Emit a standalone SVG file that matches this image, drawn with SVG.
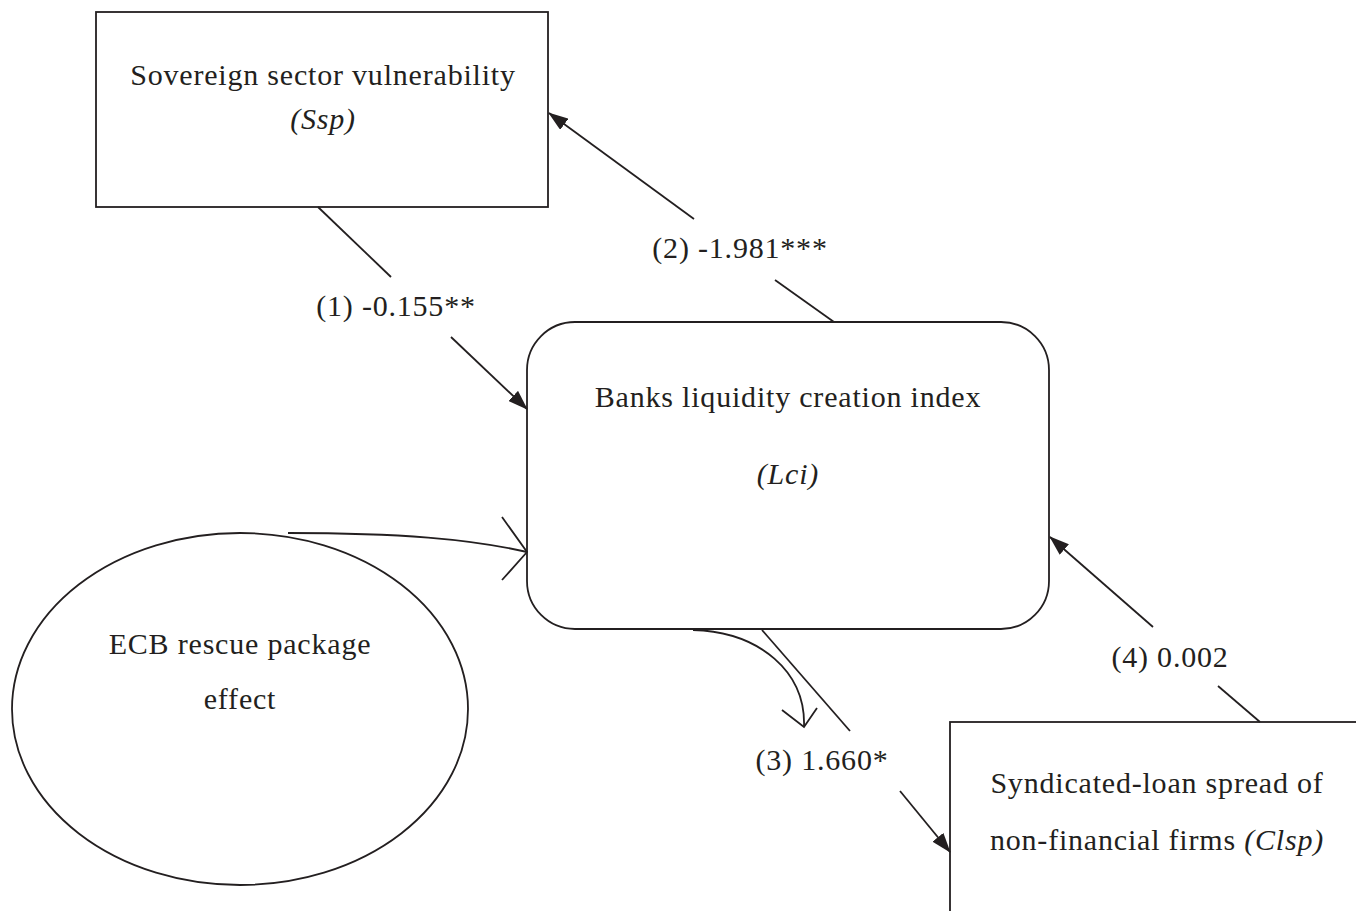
<svg xmlns="http://www.w3.org/2000/svg" width="1356" height="911" viewBox="0 0 1356 911">
<defs>
<style>
.shape{fill:#fff;stroke:#231f20;stroke-width:1.8}
.ln{fill:none;stroke:#231f20;stroke-width:1.8}
text{font-family:"Liberation Serif","Times New Roman",serif;font-size:30px;fill:#231f20;letter-spacing:0.8px}
.c{text-anchor:middle}
.i{font-style:italic}
</style>
<marker id="tri" viewBox="0 0 20 14" refX="19" refY="7" markerWidth="20" markerHeight="14" markerUnits="userSpaceOnUse" orient="auto">
<path d="M0,0 L20,7 L0,14 Z" fill="#231f20"/>
</marker>
</defs>
<rect width="1356" height="911" fill="#fff"/>
<g id="node-ssp">
<rect class="shape" x="96" y="12" width="452" height="195"/>
<text class="c" x="323" y="85">Sovereign sector vulnerability</text>
<text class="c i" x="323" y="129">(Ssp)</text>
</g>
<g id="node-lci">
<rect class="shape" x="527" y="322" width="522" height="307" rx="48" ry="48"/>
<text class="c" x="788" y="407">Banks liquidity creation index</text>
<text class="c i" x="788" y="484">(Lci)</text>
</g>
<g id="node-ecb">
<ellipse class="shape" cx="240" cy="709" rx="228" ry="176"/>
<text class="c" x="240" y="654">ECB rescue package</text>
<text class="c" x="240" y="709">effect</text>
</g>
<g id="node-clsp">
<rect class="shape" x="950" y="722" width="420" height="220"/>
<text class="c" x="1157" y="793">Syndicated-loan spread of</text>
<text class="c" x="1157" y="850">non-financial firms <tspan class="i">(Clsp)</tspan></text>
</g>
<g id="connectors">
<line class="ln" x1="318" y1="207" x2="391" y2="277"/>
<line class="ln" x1="451" y1="337" x2="527" y2="409" marker-end="url(#tri)"/>
<line class="ln" x1="834" y1="322" x2="775" y2="280"/>
<line class="ln" x1="694" y1="219" x2="549" y2="113" marker-end="url(#tri)"/>
<line class="ln" x1="762" y1="630" x2="850" y2="731"/>
<line class="ln" x1="900" y1="791" x2="950" y2="852" marker-end="url(#tri)"/>
<line class="ln" x1="1260" y1="722" x2="1218" y2="686"/>
<line class="ln" x1="1153" y1="627" x2="1050" y2="537" marker-end="url(#tri)"/>
<path class="ln" d="M288,533 C400,533 470,539 527,552"/>
<path class="ln" d="M502,517 L527,552 L502,580"/>
<path class="ln" d="M693,630 C760,632 806,672 804,727"/>
<path class="ln" d="M782,710 L804,727 L817,708"/>
<text class="c" x="396" y="316">(1) -0.155**</text>
<text class="c" x="740" y="258">(2) -1.981***</text>
<text class="c" x="822" y="770">(3) 1.660*</text>
<text class="c" x="1170" y="667">(4) 0.002</text>
</g>
</svg>
